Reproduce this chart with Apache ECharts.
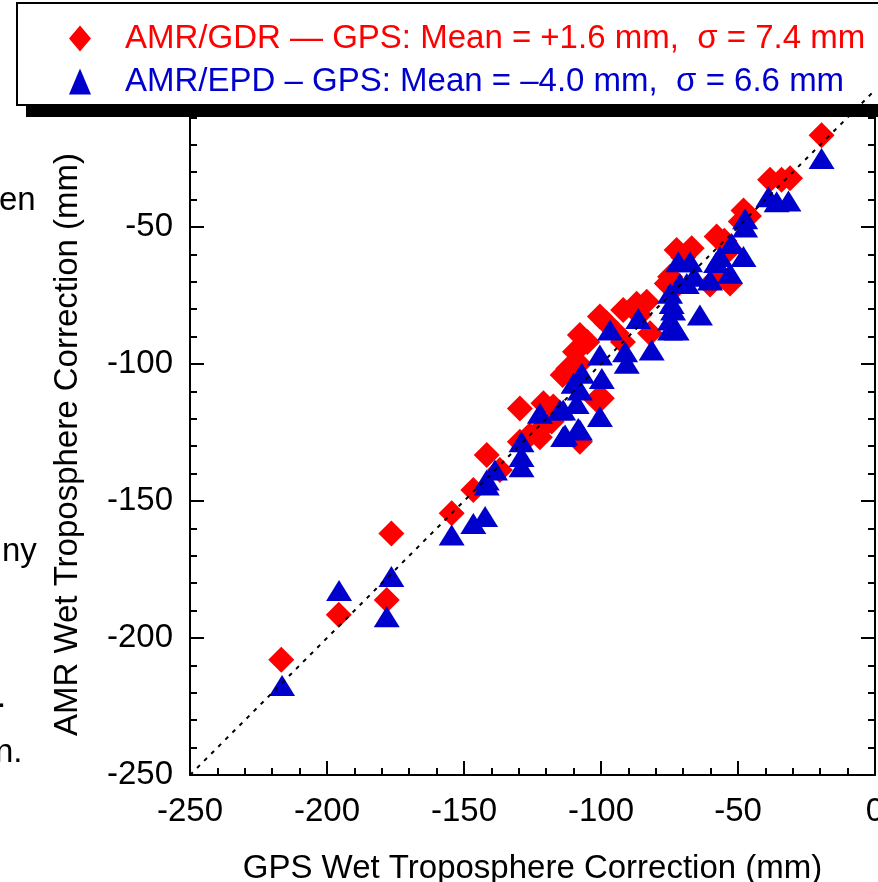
<!DOCTYPE html>
<html>
<head>
<meta charset="utf-8">
<script src="https://cdn.jsdelivr.net/npm/echarts@6/dist/echarts.min.js"></script>
<style>
html,body{margin:0;padding:0;background:#fff;}
#chart{width:878px;height:882px;}
</style>
</head>
<body>
<div id="chart"></div>
<script>
// ---- data (GPS value, AMR value) in mm ----
const gdrName = 'AMR/GDR \u2014 GPS: Mean = +1.6 mm,  \u03c3 = 7.4 mm';
const epdName = 'AMR/EPD \u2013 GPS: Mean = \u20134.0 mm,  \u03c3 = 6.6 mm';

const gdrPoints = [
  [-19.5,-16.5],
  [-38.3,-32.8],[-34.1,-32.8],[-31,-32.2],
  [-48,-44],[-46,-46],[-49,-48],
  [-57.8,-53.5],[-55,-55],[-53,-58],
  [-72.4,-58.4],[-66.9,-57.8],[-70,-61],
  [-52.9,-70.6],[-56,-68],[-60.2,-71],
  [-74.8,-68.2],[-73,-72],[-76,-70.6],
  [-83.3,-77.3],[-87,-78],[-91.9,-80.3],[-86,-82],
  [-100.4,-82.7],[-98,-85],
  [-82.1,-88.8],[-94.3,-88.8],[-92,-92],
  [-107.7,-89.4],[-105,-92],
  [-109.5,-95.5],[-111.9,-101.6],[-114,-104],[-108,-100],
  [-99.7,-112.5],[-101.6,-113.1],
  [-117.4,-115.5],[-121,-114.3],
  [-129.6,-116.2],
  [-122.9,-124.7],[-118,-121],[-122.3,-126.7],
  [-107.7,-128.4],
  [-129.6,-128.4],[-126,-126],
  [-141.7,-133.2],[-136.9,-138.7],
  [-146.6,-146],
  [-154.5,-154.5],
  [-176.5,-161.9],[-178.2,-186.1],[-195.7,-191.5],[-216.7,-207.9]
];

const epdPoints = [
  [-19.5,-25],
  [-38.9,-39],[-35.9,-40.8],[-31.6,-40.5],
  [-47.4,-47],[-47.4,-50],
  [-52.3,-56],[-56.6,-60.8],[-48,-60.8],
  [-52.9,-66.9],[-60.2,-69.3],[-58,-63],
  [-71.8,-62.7],[-67.5,-62.7],[-68.7,-70.6],[-66,-68],
  [-71.2,-70.6],[-74.8,-74.2],[-74.2,-77.9],[-73.7,-80.3],
  [-74.8,-83.9],[-72.4,-87.6],[-63.9,-82.1],
  [-86.4,-83.4],[-74.8,-87.6],[-81.5,-94.9],
  [-96.7,-87.6],[-91.2,-95.5],[-90.6,-99.7],[-100.4,-96.7],
  [-107,-103.4],[-99.7,-105.3],[-107.7,-109.5],[-110,-107],
  [-100.4,-119.2],[-107.7,-124.1],[-113.8,-126.5],[-115,-116.8],
  [-108.9,-114.4],
  [-122.3,-118],[-113.8,-116.8],[-113.1,-125.9],[-108.3,-123.5],
  [-129,-128.4],[-129,-133.8],[-129,-137.5],
  [-138.7,-138.7],[-141.7,-142.3],[-141.7,-144.2],
  [-142.3,-155.7],[-146.6,-158.2],[-154.5,-162.4],
  [-176.5,-177.6],[-178.2,-192.2],[-195.6,-182.7],[-216.4,-217.3]
];

const oneToOne = [[-250,-250],[0,0]];
const axisMin = -250, axisMax = 0, axisStep = 50;

const xTitle = 'GPS Wet Troposphere Correction (mm)';
const yTitle = 'AMR Wet Troposphere Correction (mm)';
const sideFragments = [['en',-1,201],['ny',2,552],['.',-3,698],['n.',-5,753]];

// ---- chart ----
const FONT = '"Liberation Sans", Arial, Helvetica, sans-serif';
const FS = 33;
const RED = '#ff0000', BLUE = '#0000cc';

function mkAxis(kind, pos, main) {
  const a = {
    type: 'value', position: pos, min: axisMin, max: axisMax, interval: axisStep,
    axisLine: {show: true, onZero: false, lineStyle: {color: '#000', width: 2}},
    axisTick: {show: true, inside: true, length: 14, lineStyle: {color: '#000', width: 2}},
    minorTick: {show: true, splitNumber: 5, length: 7, lineStyle: {color: '#000', width: 2}},
    splitLine: {show: false},
    axisLabel: {show: main, fontSize: FS, color: '#000', fontFamily: FONT, margin: kind === 'x' ? 20 : 17}
  };
  if (main) {
    a.name = kind === 'x' ? xTitle : yTitle;
    a.nameLocation = 'middle';
    a.nameGap = kind === 'x' ? 77 : 106;
    a.nameTextStyle = {fontSize: FS, color: '#000', fontFamily: FONT,
      padding: kind === 'x' ? 0 : [0, 24, 0, 0]};
  }
  return a;
}

const chart = echarts.init(document.getElementById('chart'), null, {renderer: 'canvas'});
chart.setOption({
  animation: false,
  backgroundColor: '#fff',
  grid: {left: 190, right: 3, top: 90, bottom: 107, outerBoundsMode: 'none', containLabel: false},
  xAxis: [mkAxis('x', 'bottom', true), mkAxis('x', 'top', false)],
  yAxis: [mkAxis('y', 'left', true), mkAxis('y', 'right', false)],
  legend: {
    orient: 'vertical', left: 64, top: 17, itemWidth: 22, itemHeight: 26, itemGap: 10,
    z: 20,
    textStyle: {fontSize: FS, fontFamily: FONT, padding: [0, 0, 0, 29]},
    data: [
      {name: gdrName, icon: 'diamond', textStyle: {color: RED}},
      {name: epdName, icon: 'triangle', textStyle: {color: BLUE}}
    ]
  },
  graphic: [
    {type: 'rect', z: 15, shape: {x: 26, y: 15, width: 880, height: 102}, style: {fill: '#000'}},
    {type: 'rect', z: 16, shape: {x: 17, y: 3, width: 880, height: 102}, style: {fill: '#fff', stroke: '#000', lineWidth: 2}}
  ].concat(sideFragments.map(f => ({
    type: 'text', x: f[1], y: f[2], z: 5,
    style: {text: f[0], fontSize: FS, fontFamily: FONT, fill: '#000', verticalAlign: 'middle'}
  }))),
  series: [
    {name: gdrName, type: 'scatter', symbol: 'diamond', symbolSize: [26, 26], z: 3,
     itemStyle: {color: RED, opacity: 1}, data: gdrPoints},
    {name: epdName, type: 'scatter', symbol: 'triangle', symbolSize: [26, 21], z: 4,
     itemStyle: {color: BLUE, opacity: 1}, data: epdPoints},
    {name: '1:1', type: 'line', data: oneToOne, symbol: 'none', z: 30, silent: true,
     lineStyle: {color: '#000', width: 2, type: [4, 6]}}
  ]
});
</script>
</body>
</html>
